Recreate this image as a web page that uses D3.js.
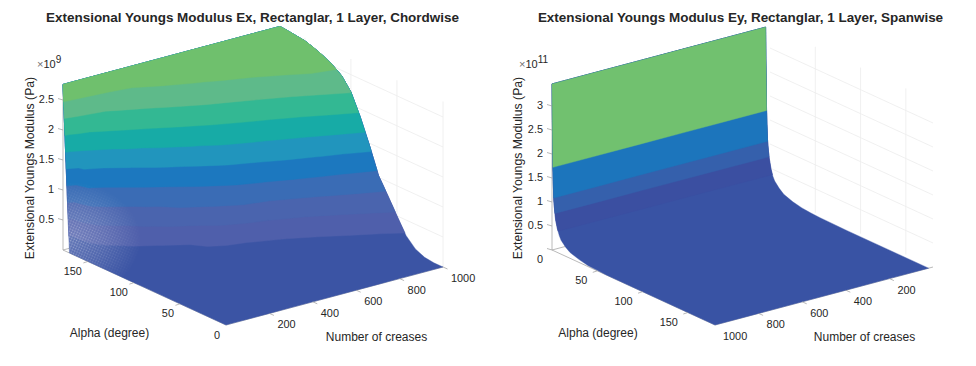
<!DOCTYPE html>
<html>
<head>
<meta charset="utf-8">
<script src="https://cdn.jsdelivr.net/npm/d3@7"></script>
<style>
  body { margin: 0; background: #fff; }
  text { font-family: "Liberation Sans", Arial, sans-serif; fill: #262626; }
</style>
</head>
<body>
<div id="chart-container"></div>
<script>
// values
const alphaEx = [0, 10, 20, 30, 40, 50, 60, 70, 80, 90, 100, 110, 120, 130, 140, 150, 160, 170, 177];
const creasesEx = [0, 20, 50, 100, 200, 300, 400, 500, 600, 700, 800, 900, 1000];
const modulusEx = [
  [0, 0, 0, 0, 0, 0, 0, 0, 0, 0, 0, 0, 0, 0, 0, 0, 0, 0, 2.76],
  [0, 0, 0, 0, 0, 0, 0, 0, 0, 0, 0, .01, .02, .05, .1, .25, .45, .75, 2.76],
  [0, 0, 0, 0, 0, 0, 0, 0, 0, 0, .01, .02, .05, .1, .2, .52, 1.05, 1.6, 2.76],
  [0, 0, 0, 0, 0, 0, 0, 0, 0, 0, .01, .03, .08, .17, .41, .9, 1.27, 1.97, 2.76],
  [0, 0, 0, 0, 0, 0, 0, 0, .01, .03, .07, .15, .22, .64, 1.02, 1.4, 1.94, 2.31, 2.76],
  [0, 0, 0, 0, 0, 0, .01, .02, .04, .09, .17, .28, .85, 1.12, 1.52, 1.91, 2.26, 2.5, 2.76],
  [0, 0, 0, 0, 0, .01, .02, .04, .09, .17, .44, .9, 1.19, 1.54, 1.9, 2.24, 2.48, 2.68, 2.76],
  [0, 0, 0, 0, 0, .02, .04, .08, .16, .3, .9, 1.21, 1.57, 1.88, 2.2, 2.44, 2.62, 2.72, 2.76],
  [0, 0, 0, 0, .01, .04, .08, .14, .23, .62, 1.13, 1.48, 1.82, 2.12, 2.41, 2.55, 2.65, 2.73, 2.76],
  [0, 0, 0, .01, .03, .07, .13, .21, .49, 1.02, 1.41, 1.72, 2.04, 2.34, 2.51, 2.6, 2.68, 2.74, 2.76],
  [0, 0, 0, .02, .05, .12, .22, .47, .9, 1.3, 1.64, 1.97, 2.27, 2.49, 2.56, 2.63, 2.7, 2.74, 2.76],
  [0, 0, .01, .04, .11, .21, .49, .825, 1.15, 1.56, 1.93, 2.24, 2.48, 2.54, 2.6, 2.66, 2.72, 2.74, 2.76],
  [0, 0, .02, .09, .24, .5, .77, 1.03, 1.47, 1.87, 2.21, 2.41, 2.52, 2.6, 2.66, 2.71, 2.73, 2.75, 2.76]
];
const levelsEx = [.275, .55, .825, 1.1, 1.375, 1.65, 1.925, 2.2, 2.475];
const zTicksEx = [.5, 1, 1.5, 2, 2.5];
const alphaTicksEx = [0, 50, 100, 150];
const creaseTicksEx = [200, 400, 600, 800, 1000];

const alphaEy = [0, 1, 2, 3, 4, 6, 8, 10, 15, 20, 30, 40, 50, 60, 90, 120, 150, 180];
const creasesEy = [20, 200, 400, 600, 800, 1000];
const modulusEy = [
  [3.46, 1.76, 1.15, .92, .76, .55, .42, .34, .23, .15, .08, .04, .02, .01, 0, 0, 0, 0],
  [3.46, 1.75, 1.13, .9, .74, .54, .41, .33, .22, .14, .07, .04, .02, .01, 0, 0, 0, 0],
  [3.46, 1.74, 1.11, .88, .72, .53, .4, .32, .21, .14, .07, .03, .02, .01, 0, 0, 0, 0],
  [3.46, 1.73, 1.09, .86, .7, .52, .39, .31, .2, .13, .06, .03, .01, 0, 0, 0, 0, 0],
  [3.46, 1.72, 1.07, .85, .68, .5, .38, .3, .2, .13, .06, .03, .01, 0, 0, 0, 0, 0],
  [3.46, 1.7, 1.05, .83, .66, .49, .37, .29, .19, .12, .06, .02, .01, 0, 0, 0, 0, 0]
];
const levelsEy = [.45, .79, 1.1, 1.73];
const zTicksEy = [0, .5, 1, 1.5, 2, 2.5, 3];
const alphaTicksEy = [50, 100, 150];
const creaseTicksEy = [200, 400, 600, 800, 1000];

const coloursEx = ["#3b54a4", "#4f5fab", "#4a64ae", "#3a6cb5", "#1c78bf", "#2195bd", "#17aba6", "#33b893", "#5eba8a", "#6fc06d"];
const coloursEy = ["#3953a4", "#3b4fa1", "#3560ac", "#1c75bc", "#71c16f"];

const width = 976;
const height = 366;

const svg = d3.select("#chart-container")
  .append("svg")
  .attr("width", width)
  .attr("height", height)
  .style("display", "block");

const defs = svg.append("defs");
const glow = defs.append("radialGradient").attr("id", "paleMesh");
glow.append("stop").attr("offset", "0%").attr("stop-color", "#fff").attr("stop-opacity", 1);
glow.append("stop").attr("offset", "50%").attr("stop-color", "#fff").attr("stop-opacity", .55);
glow.append("stop").attr("offset", "100%").attr("stop-color", "#fff").attr("stop-opacity", 0);
const dots = defs.append("pattern").attr("id", "meshDots")
  .attr("patternUnits", "userSpaceOnUse").attr("width", 2.6).attr("height", 2.6)
  .attr("patternTransform", "rotate(24)");
dots.append("rect").attr("width", 2.6).attr("height", 2.6).attr("fill", "#fff").attr("fill-opacity", .18);
dots.append("circle").attr("cx", 1.3).attr("cy", 1.3).attr("r", .8).attr("fill", "#fff").attr("fill-opacity", .4);

function drawPanel(p) {
  const g = svg.append("g");

  // 3D box flattened on to the page: each data axis moves a point along its own slanted direction
  const alphaX = d3.scaleLinear().domain([0, p.alphaMax]).range(p.alphaDx);
  const alphaY = d3.scaleLinear().domain([0, p.alphaMax]).range(p.alphaDy);
  const creaseX = d3.scaleLinear().domain([0, 1000]).range(p.creaseDx);
  const creaseY = d3.scaleLinear().domain([0, 1000]).range(p.creaseDy);
  const zY = d3.scaleLinear().domain([0, 1]).range([0, -p.zPx]);
  const project = (a, n, z) => [
    p.originX + alphaX(a) + creaseX(n),
    p.originY + alphaY(a) + creaseY(n) + zY(z)
  ];
  const line = d3.line();
  const edge = (pts, colour, w) => g.append("path")
    .attr("d", line(pts)).attr("fill", "none")
    .attr("stroke", colour).attr("stroke-width", w);

  // back wall grid, sits behind the surface
  p.alphaTicks.forEach(a => {
    edge([project(a, p.wallCrease, 0), project(a, p.wallCrease, p.zMax)], "#ececec", .8);
  });
  p.zTicks.forEach(z => {
    if (z === 0) return;
    edge([project(0, p.wallCrease, z), project(p.alphaMax, p.wallCrease, z)], "#ececec", .8);
  });

  // box edges
  edge([project(p.zAxisAlpha, p.zAxisCrease, 0), project(p.zAxisAlpha, p.zAxisCrease, p.zMax)], "#a8a8a8", .8);
  edge([project(0, p.frontCrease, 0), project(p.alphaMax, p.frontCrease, 0)], "#a8a8a8", .8);
  edge([project(p.frontAlpha, 0, 0), project(p.frontAlpha, 1000, 0)], "#a8a8a8", .8);
  edge([project(p.zAxisAlpha, p.zAxisCrease, 0), project(p.zAxisAlpha, p.backCrease, 0)], "#a8a8a8", .8);

  // surface: filled bands from d3.contours, lifted on to the slanted box
  const nx = p.alpha.length;
  const ny = p.creases.length;
  const flat = p.values.flat();
  const alphaAt = d3.scaleLinear().domain(d3.range(nx)).range(p.alpha);
  const creaseAt = d3.scaleLinear().domain(d3.range(ny)).range(p.creases);
  const valueAt = (i, j) => {
    const i0 = Math.min(Math.floor(i), nx - 2), j0 = Math.min(Math.floor(j), ny - 2);
    const u = i - i0, v = j - j0;
    const row0 = p.values[j0], row1 = p.values[j0 + 1];
    return (row0[i0] * (1 - u) + row0[i0 + 1] * u) * (1 - v) +
      (row1[i0] * (1 - u) + row1[i0 + 1] * u) * v;
  };
  const liftRing = ring => ring.map(([cx, cy]) => {
    const i = Math.max(0, Math.min(nx - 1, cx - .5));
    const j = Math.max(0, Math.min(ny - 1, cy - .5));
    return project(alphaAt(i), creaseAt(j), valueAt(i, j));
  });
  const bands = d3.contours().size([nx, ny]).thresholds([-1].concat(p.levels))(flat);
  let basePath = "";
  bands.forEach((band, k) => {
    const d = band.coordinates.map(poly => poly.map(r => line(liftRing(r)) + "Z").join("")).join("");
    if (k === 0) basePath = d;
    g.append("path")
      .attr("d", d)
      .attr("fill", p.colours[k])
      .attr("fill-rule", "evenodd")
      .attr("stroke", p.colours[k])
      .attr("stroke-width", .4);
  });

  // pale moire from the dense mesh where the surface folds up at the far end of alpha
  if (p.mesh) {
    const [cx, cy] = project(p.mesh.alpha, p.mesh.crease, p.mesh.z);
    defs.append("clipPath").attr("id", "clip" + p.id).append("path").attr("d", basePath);
    const mask = defs.append("mask").attr("id", "mask" + p.id)
      .attr("maskUnits", "userSpaceOnUse")
      .attr("x", 0).attr("y", 0).attr("width", width).attr("height", height);
    mask.append("ellipse")
      .attr("cx", cx).attr("cy", cy)
      .attr("rx", p.mesh.rx).attr("ry", p.mesh.ry)
      .attr("fill", "url(#paleMesh)");
    g.append("g").attr("clip-path", `url(#clip${p.id})`)
      .append("rect")
      .attr("width", width).attr("height", height)
      .attr("fill", "url(#meshDots)")
      .attr("mask", `url(#mask${p.id})`);
  }

  // ticks and their labels
  const tick = (from, dx, dy) => edge([from, [from[0] + dx, from[1] + dy]], "#9a9a9a", .7);
  const label = (x, y, s, anchor = "middle", size = 10.9) => g.append("text")
    .attr("x", x).attr("y", y)
    .attr("text-anchor", anchor)
    .attr("font-size", size)
    .text(s);

  p.zTicks.forEach(z => {
    const at = project(p.zAxisAlpha, p.zAxisCrease, z);
    tick(at, -5, -1.5);
    label(at[0] - 9, at[1] + 2.5 + (z === 0 ? 10 : 0), z, "end");
  });
  p.alphaTicks.forEach(a => {
    const at = project(a, p.frontCrease, 0);
    if (a !== 0) tick(at, -4.5, 1.5);
    label(at[0] + p.alphaLabelDx, at[1] + 13.5, a, "end");
  });
  p.creaseTicks.forEach(n => {
    const at = project(p.frontAlpha, n, 0);
    if (n !== 1000 || p.id === "Ex") tick(at, 4.5, 2);
    label(at[0] + 8, at[1] + 15, n, "start");
  });

  label(p.titleX, 21.5, p.title, "middle", 13.46).attr("font-weight", "bold");
  label(p.zTitleX, p.zTitleY, "Extensional Youngs Modulus (Pa)", "middle", 12.2)
    .attr("transform", `rotate(-90 ${p.zTitleX} ${p.zTitleY})`);
  label(p.alphaTitleX, 337, "Alpha (degree)", "middle", 12);
  label(p.creaseTitleX, 341, "Number of creases", "middle", 12);

  const scale = label(p.scaleX, 67.5, "", "start", 11);
  scale.append("tspan").style("fill", "#707070").text("\u00d7");
  scale.append("tspan").text("10");
  scale.append("tspan").attr("dy", -5).attr("font-size", 10).text(p.scalePower);
}

drawPanel({
  id: "Ex",
  title: "Extensional Youngs Modulus Ex, Rectanglar, 1 Layer, Chordwise",
  titleX: 252.5,
  originX: 226, originY: 325,
  alphaMax: 177, alphaDx: [0, -163], alphaDy: [0, -75],
  creaseDx: [0, 217], creaseDy: [0, -58],
  zPx: 60, zMax: 2.76,
  alpha: alphaEx, creases: creasesEx, values: modulusEx,
  levels: levelsEx, colours: coloursEx,
  zTicks: zTicksEx, alphaTicks: alphaTicksEx, creaseTicks: creaseTicksEx,
  wallCrease: 1000,
  zAxisAlpha: 177, zAxisCrease: 0, frontCrease: 0, frontAlpha: 0, backCrease: 60,
  alphaLabelDx: -6,
  zTitleX: 34, zTitleY: 168, alphaTitleX: 109.5, creaseTitleX: 376.5,
  scaleX: 37, scalePower: "9",
  mesh: { alpha: 172, crease: 8, z: .2, rx: 72, ry: 58 }
});

drawPanel({
  id: "Ey",
  title: "Extensional Youngs Modulus Ey, Rectanglar, 1 Layer, Spanwise",
  titleX: 740.5,
  originX: 552, originY: 250,
  alphaMax: 180, alphaDx: [0, 163], alphaDy: [0, 75],
  creaseDx: [218, 0], creaseDy: [-58, 0],
  zPx: 48, zMax: 3.46,
  alpha: alphaEy, creases: creasesEy, values: modulusEy,
  levels: levelsEy, colours: coloursEy,
  zTicks: zTicksEy, alphaTicks: alphaTicksEy, creaseTicks: creaseTicksEy,
  wallCrease: 0,
  zAxisAlpha: 0, zAxisCrease: 1000, frontCrease: 1000, frontAlpha: 180, backCrease: 940,
  alphaLabelDx: -10,
  zTitleX: 522, zTitleY: 168, alphaTitleX: 598, creaseTitleX: 864.5,
  scaleX: 519, scalePower: "11",
  mesh: null
});
</script>
</body>
</html>
